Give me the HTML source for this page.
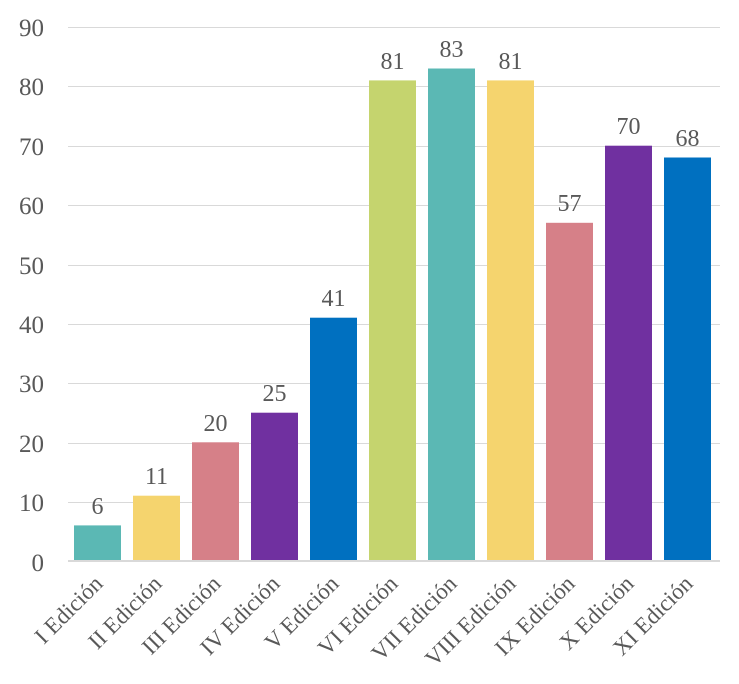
<!DOCTYPE html>
<html><head><meta charset="utf-8"><style>body{margin:0;background:#fff}svg{display:block}text{font-family:"Liberation Serif",serif;fill:#595959}</style></head><body>
<svg width="739" height="684" xmlns="http://www.w3.org/2000/svg">
<g stroke="#d9d9d9" stroke-width="1">
<line x1="68" x2="720" y1="27.5" y2="27.5"/><line x1="68" x2="720" y1="86.5" y2="86.5"/><line x1="68" x2="720" y1="146.5" y2="146.5"/><line x1="68" x2="720" y1="205.5" y2="205.5"/><line x1="68" x2="720" y1="265.5" y2="265.5"/><line x1="68" x2="720" y1="324.5" y2="324.5"/><line x1="68" x2="720" y1="383.5" y2="383.5"/><line x1="68" x2="720" y1="443.5" y2="443.5"/><line x1="68" x2="720" y1="502.5" y2="502.5"/>
</g>
<g font-size="25" text-anchor="end">
<text x="44" y="36">90</text><text x="44" y="95">80</text><text x="44" y="155">70</text><text x="44" y="214">60</text><text x="44" y="274">50</text><text x="44" y="333">40</text><text x="44" y="392">30</text><text x="44" y="452">20</text><text x="44" y="511">10</text><text x="44" y="571">0</text>
</g>
<g>
<rect x="74" y="525.4" width="47" height="35.6" fill="#5BB8B4"/>
<rect x="133" y="495.7" width="47" height="65.3" fill="#F5D46E"/>
<rect x="192" y="442.3" width="47" height="118.7" fill="#D68088"/>
<rect x="251" y="412.7" width="47" height="148.3" fill="#7030A0"/>
<rect x="310" y="317.7" width="47" height="243.3" fill="#0070C0"/>
<rect x="369" y="80.4" width="47" height="480.6" fill="#C5D46E"/>
<rect x="428" y="68.5" width="47" height="492.5" fill="#5BB8B4"/>
<rect x="487" y="80.4" width="47" height="480.6" fill="#F5D46E"/>
<rect x="546" y="222.8" width="47" height="338.2" fill="#D68088"/>
<rect x="605" y="145.7" width="47" height="415.3" fill="#7030A0"/>
<rect x="664" y="157.5" width="47" height="403.5" fill="#0070C0"/>
</g>
<line x1="68" x2="720" y1="561" y2="561" stroke="#d9d9d9" stroke-width="2"/>
<g font-size="24" text-anchor="middle">
<text x="97.5" y="514">6</text><text x="156.5" y="484">11</text><text x="215.5" y="431">20</text><text x="274.5" y="401">25</text><text x="333.5" y="306">41</text><text x="392.5" y="69">81</text><text x="451.5" y="57">83</text><text x="510.5" y="69">81</text><text x="569.5" y="211">57</text><text x="628.5" y="134">70</text><text x="687.5" y="146">68</text>
</g>
<g font-size="23" text-anchor="end">
<text transform="translate(104,585) rotate(-45)">I Edición</text>
<text transform="translate(163,585) rotate(-45)">II Edición</text>
<text transform="translate(222,585) rotate(-45)">III Edición</text>
<text transform="translate(281,585) rotate(-45)">IV Edición</text>
<text transform="translate(340,585) rotate(-45)">V Edición</text>
<text transform="translate(399,585) rotate(-45)">VI Edición</text>
<text transform="translate(458,585) rotate(-45)">VII Edición</text>
<text transform="translate(517,585) rotate(-45)">VIII Edición</text>
<text transform="translate(576,585) rotate(-45)">IX Edición</text>
<text transform="translate(635,585) rotate(-45)">X Edición</text>
<text transform="translate(694,585) rotate(-45)">XI Edición</text>
</g>
</svg>
</body></html>
